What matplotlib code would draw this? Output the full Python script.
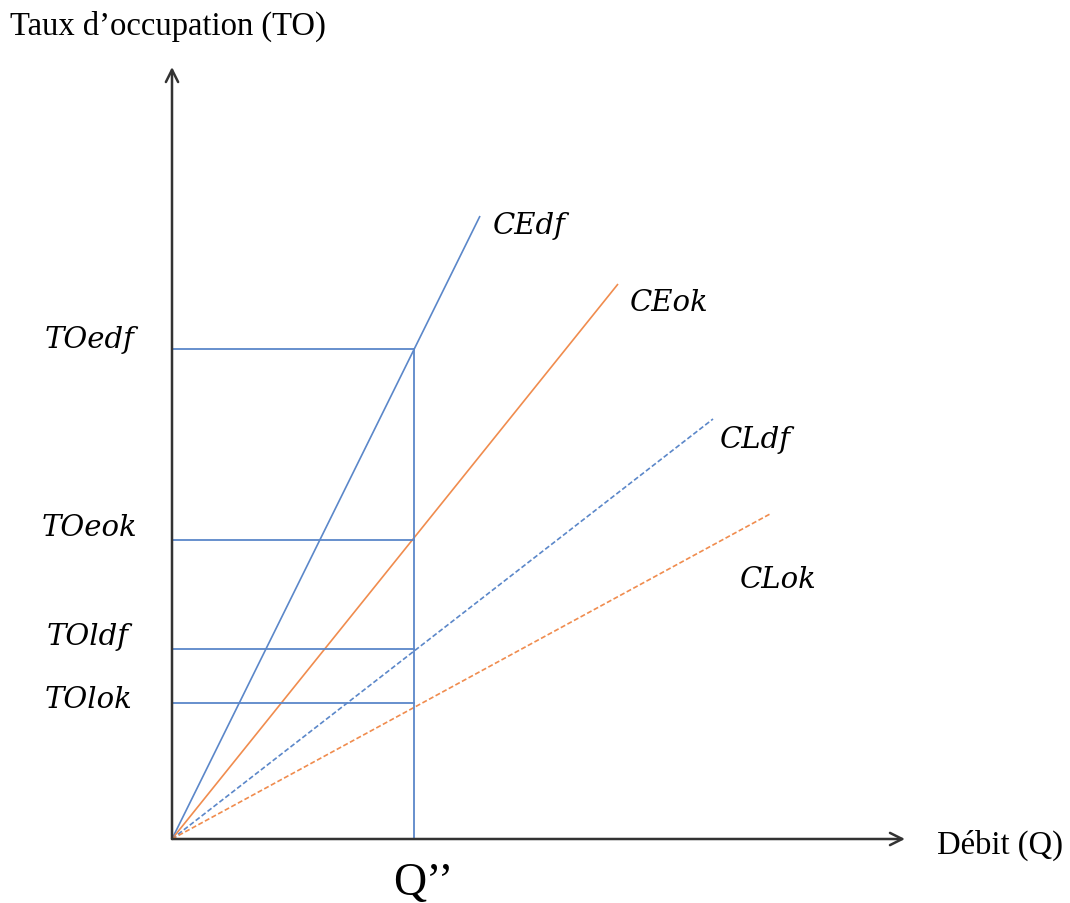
import matplotlib
matplotlib.use("Agg")
import matplotlib.pyplot as plt

# ---- data (arbitrary units, origin at 0) ----
curve_names = ["CEdf", "CEok", "CLdf", "CLok"]
curve_end_x = [3.08, 4.46, 5.41, 5.98]
curve_end_y = [6.23, 5.55, 4.20, 3.25]
curve_dashed = [False, False, True, True]
curve_colors = ["#5B87C9", "#F08C4E", "#5B87C9", "#F08C4E"]

level_names = ["TOedf", "TOeok", "TOldf", "TOlok"]
level_values = [4.90, 2.99, 1.90, 1.36]
q_value = 2.42
q_label = "Q’’"

x_axis_max = 7.33
y_axis_max = 7.72

fig = plt.figure(figsize=(10.70, 9.04), dpi=100)
ax = fig.add_axes([0, 0, 1, 1])
ax.set_xlim(-1.72, 8.98)
ax.set_ylim(-0.64, 8.40)
ax.axis("off")

blue = "#5B87C9"

# axes arrows
ax.annotate("", xy=(x_axis_max, 0), xytext=(0, 0),
            arrowprops=dict(arrowstyle="->", color="#333333", lw=1.8,
                            mutation_scale=22, shrinkA=0, shrinkB=0))
ax.annotate("", xy=(0, y_axis_max), xytext=(0, 0),
            arrowprops=dict(arrowstyle="->", color="#333333", lw=1.8,
                            mutation_scale=22, shrinkA=0, shrinkB=0))

# curves
for name, ex, ey, dashed, col in zip(curve_names, curve_end_x, curve_end_y,
                                     curve_dashed, curve_colors):
    ls = (0, (3, 1.5)) if dashed else "-"
    ax.plot([0, ex], [0, ey], color=col, lw=1.2, linestyle=ls,
            solid_capstyle="butt")

# reference lines
ax.plot([q_value, q_value], [0, max(level_values)], color=blue, lw=1.3)
for v in level_values:
    ax.plot([0, q_value], [v, v], color=blue, lw=1.3)

# curve labels
curve_label_pos = [(3.21, 6.14), (4.58, 5.37), (5.48, 4.00), (5.68, 2.60)]
mfont = dict(family="DejaVu Serif", style="italic", fontsize=21)
for name, (lx, ly) in zip(curve_names, curve_label_pos):
    ax.text(lx, ly, name, ha="left", va="center", **mfont)

# level labels
level_label_x = [-1.27, -1.30, -1.25, -1.27]
level_label_dy = [0.10, 0.13, 0.13, 0.04]
for name, v, lx, dy in zip(level_names, level_values, level_label_x, level_label_dy):
    ax.text(lx, v + dy, name, ha="left", va="center", **mfont)

# axis titles
ax.text(-1.62, 8.14, "Taux d’occupation (TO)", ha="left", va="center",
        family="Liberation Serif", fontsize=23.5)
ax.text(7.65, -0.05, "Débit (Q)", ha="left", va="center",
        family="Liberation Serif", fontsize=23.5)
ax.text(q_value + 0.09, -0.44, q_label, ha="center", va="center",
        family="Liberation Serif", fontsize=33)

fig.savefig("out.png", dpi=100, facecolor="white")
